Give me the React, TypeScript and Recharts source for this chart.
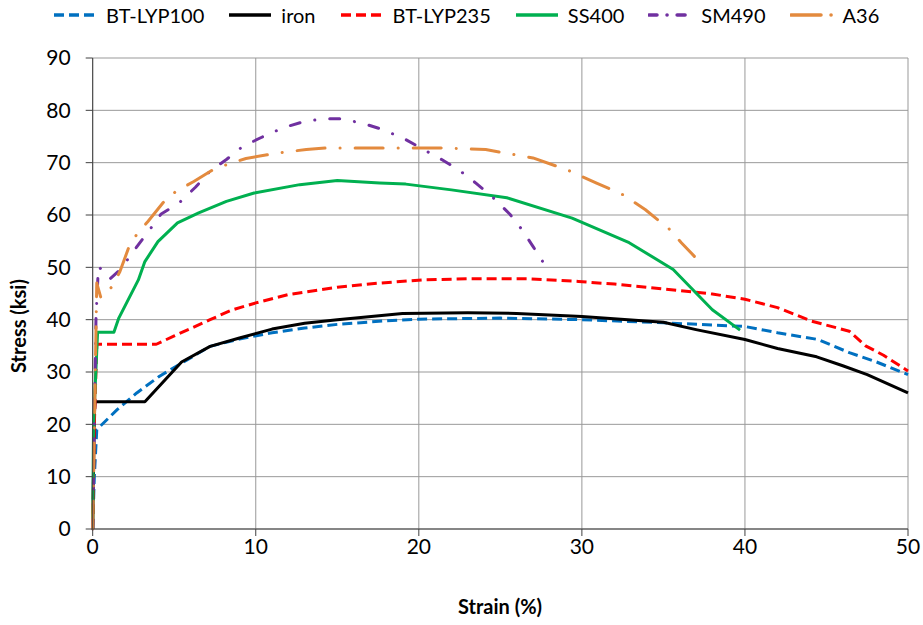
import React from "react";
import { LineChart, Line, XAxis, YAxis, CartesianGrid, Label } from "recharts";

// strain (%) / stress (ksi)
const lyp100Strain = [0, 0.1, 0.25, 1.5, 2.7, 4.1, 5.5, 7.2, 9, 11, 13, 15, 18, 20, 25, 30, 35, 40, 42, 44.5, 46.4, 48, 50];
const lyp100Stress = [0, 10, 19, 22.8, 26, 29.2, 31.8, 34.9, 36.3, 37.5, 38.4, 39.1, 39.8, 40.1, 40.3, 40, 39.4, 38.7, 37.5, 36.2, 33.7, 32, 29.5];

const ironStrain = [0, 0.1, 0.15, 3.2, 5.45, 7.2, 9, 11, 13, 15, 19, 23, 26, 30, 35, 37, 40, 42, 44.4, 46, 47.5, 50];
const ironStress = [0, 22, 24.3, 24.3, 31.9, 34.9, 36.5, 38.2, 39.3, 40, 41.2, 41.3, 41.2, 40.6, 39.5, 38.1, 36.2, 34.5, 32.9, 31.2, 29.5, 26];

const lyp235Strain = [0, 0.1, 0.25, 3.9, 5, 6, 7.2, 8.5, 10, 12, 15, 17.6, 20.2, 23, 26.8, 29.8, 32, 34.9, 38, 40, 42, 44.1, 46.4, 47.4, 48.5, 50];
const lyp235Stress = [0, 20, 35.3, 35.3, 36.9, 38.3, 40, 41.8, 43.2, 44.8, 46.2, 47, 47.6, 47.8, 47.8, 47.3, 46.8, 45.9, 44.9, 43.9, 42.3, 39.7, 37.8, 35, 33.2, 30.2];

const ss400Strain = [0, 0.05, 0.3, 1.3, 1.6, 2.8, 3.2, 4.0, 5.2, 6.5, 8.2, 9.9, 12.7, 15.0, 17.6, 19.2, 22, 25.4, 29.4, 32.9, 35.6, 38.0, 39.7];
const ss400Stress = [0, 20, 37.6, 37.6, 40.3, 47.6, 51.1, 54.9, 58.5, 60.4, 62.6, 64.2, 65.8, 66.6, 66.1, 65.9, 64.8, 63.3, 59.4, 54.7, 49.6, 41.9, 38.0];

const sm490Strain = [0, 0.2, 0.35, 1.06, 1.7, 2.7, 3.5, 4.2, 5.3, 6.3, 7.2, 8.2, 9.2, 10.4, 11.7, 12.8, 14.1, 15.3, 16.8, 17.9, 19.2, 21.4, 22.5, 23.5, 24.5, 25.6, 26.3, 27.0, 27.7];
const sm490Stress = [0, 40, 50.2, 47.8, 49.6, 53.9, 57.2, 60.2, 62.3, 65.3, 68.4, 70.6, 73.1, 74.9, 76.7, 77.7, 78.4, 78.4, 77.3, 76.2, 74.4, 70.6, 68.5, 66.1, 63.5, 60.1, 57.3, 54.0, 50.6];

const a36Strain = [0, 0.25, 0.5, 1.22, 1.67, 2.2, 2.7, 3.4, 4.3, 5.1, 6.2, 7.4, 8.2, 9.4, 10.7, 11.7, 13.1, 14.3, 16.2, 18.8, 21.3, 24.1, 27.0, 29.2, 30.9, 32.5, 33.9, 35.4, 36.1, 36.9];
const a36Stress = [0, 47, 44.2, 46.4, 49.2, 53.7, 56.3, 58.8, 62.3, 64.5, 66.4, 68.7, 69.6, 70.8, 71.5, 72.0, 72.5, 72.8, 72.8, 72.8, 72.8, 72.5, 70.9, 68.5, 66.1, 63.9, 61.0, 57.2, 54.7, 52.1];

const xTicks = [0, 10, 20, 30, 40, 50];
const yTicks = [0, 10, 20, 30, 40, 50, 60, 70, 80, 90];

const FONT = "Lato, 'Liberation Sans', sans-serif";

const toPoints = (xs: number[], ys: number[]) => xs.map((x, i) => ({ x, y: ys[i] }));

const series = [
  { name: "BT-LYP100", data: toPoints(lyp100Strain, lyp100Stress), color: "#0070C0", dash: "10 5", legendDash: "10 5", cap: "butt" },
  { name: "iron", data: toPoints(ironStrain, ironStress), color: "#000000", dash: undefined, legendDash: undefined, cap: "butt" },
  { name: "BT-LYP235", data: toPoints(lyp235Strain, lyp235Stress), color: "#FF0000", dash: "10 5", legendDash: "10 5", cap: "butt" },
  { name: "SS400", data: toPoints(ss400Strain, ss400Stress), color: "#00B050", dash: undefined, legendDash: undefined, cap: "butt" },
  { name: "SM490", data: toPoints(sm490Strain, sm490Stress), color: "#7030A0", dash: "10 15 0.1 15", legendDash: "8 10 0.1 10", cap: "round" },
  { name: "A36", data: toPoints(a36Strain, a36Stress), color: "#E38A3E", dash: "28 15 0.1 15", legendDash: "30 10 0.1 10", cap: "round" },
];

function TopLegend() {
  return (
    <div
      style={{
        position: "absolute",
        left: 0,
        top: 3,
        width: 923,
        display: "flex",
        alignItems: "center",
        fontFamily: FONT,
        fontSize: 20,
        color: "#000",
        paddingLeft: 53,
        boxSizing: "border-box",
      }}
    >
      {series.map((s) => (
        <div key={s.name} style={{ display: "flex", alignItems: "center", marginRight: 24 }}>
          <svg width={44} height={10} style={{ marginRight: 9 }}>
            <line
              x1={1}
              y1={5}
              x2={43}
              y2={5}
              stroke={s.color}
              strokeWidth={3.5}
              strokeDasharray={s.legendDash}
              strokeLinecap={s.cap as any}
            />
          </svg>
          <span>{s.name}</span>
        </div>
      ))}
    </div>
  );
}

export default function App() {
  return (
    <div style={{ position: "absolute", left: 0, top: 0, width: 923, height: 625, background: "#fff" }}>
      <TopLegend />
      <LineChart width={923} height={625} margin={{ top: 58, right: 15, bottom: 0, left: 0 }}>
        <CartesianGrid stroke="#999" strokeWidth={1} />
        <XAxis
          type="number"
          dataKey="x"
          domain={[0, 50]}
          ticks={xTicks}
          height={96}
          tickSize={7}
          tickMargin={3}
          stroke="#404040"
          tick={{ fill: "#000", fontFamily: FONT, fontSize: 21 }}
        >
          <Label
            content={() => (
              <text x={500} y={614} textAnchor="middle" fontFamily={FONT} fontSize={20} fontWeight="bold" fill="#000">
                Strain (%)
              </text>
            )}
          />
        </XAxis>
        <YAxis
          type="number"
          domain={[0, 90]}
          ticks={yTicks}
          width={92.7}
          tickSize={7}
          tickMargin={15}
          stroke="#404040"
          tick={{ fill: "#000", fontFamily: FONT, fontSize: 21 }}
        >
          <Label
            content={() => (
              <text
                x={26}
                y={326}
                transform="rotate(-90 26 326)"
                textAnchor="middle"
                fontFamily={FONT}
                fontSize={20}
                fontWeight="bold"
                fill="#000"
              >
                Stress (ksi)
              </text>
            )}
          />
        </YAxis>
        {series.map((s) => (
          <Line
            key={s.name}
            data={s.data}
            dataKey="y"
            name={s.name}
            type="linear"
            stroke={s.color}
            strokeWidth={3}
            strokeDasharray={s.dash}
            strokeLinecap={s.cap as any}
            strokeLinejoin="round"
            dot={false}
            activeDot={false}
            isAnimationActive={false}
          />
        ))}
      </LineChart>
    </div>
  );
}
